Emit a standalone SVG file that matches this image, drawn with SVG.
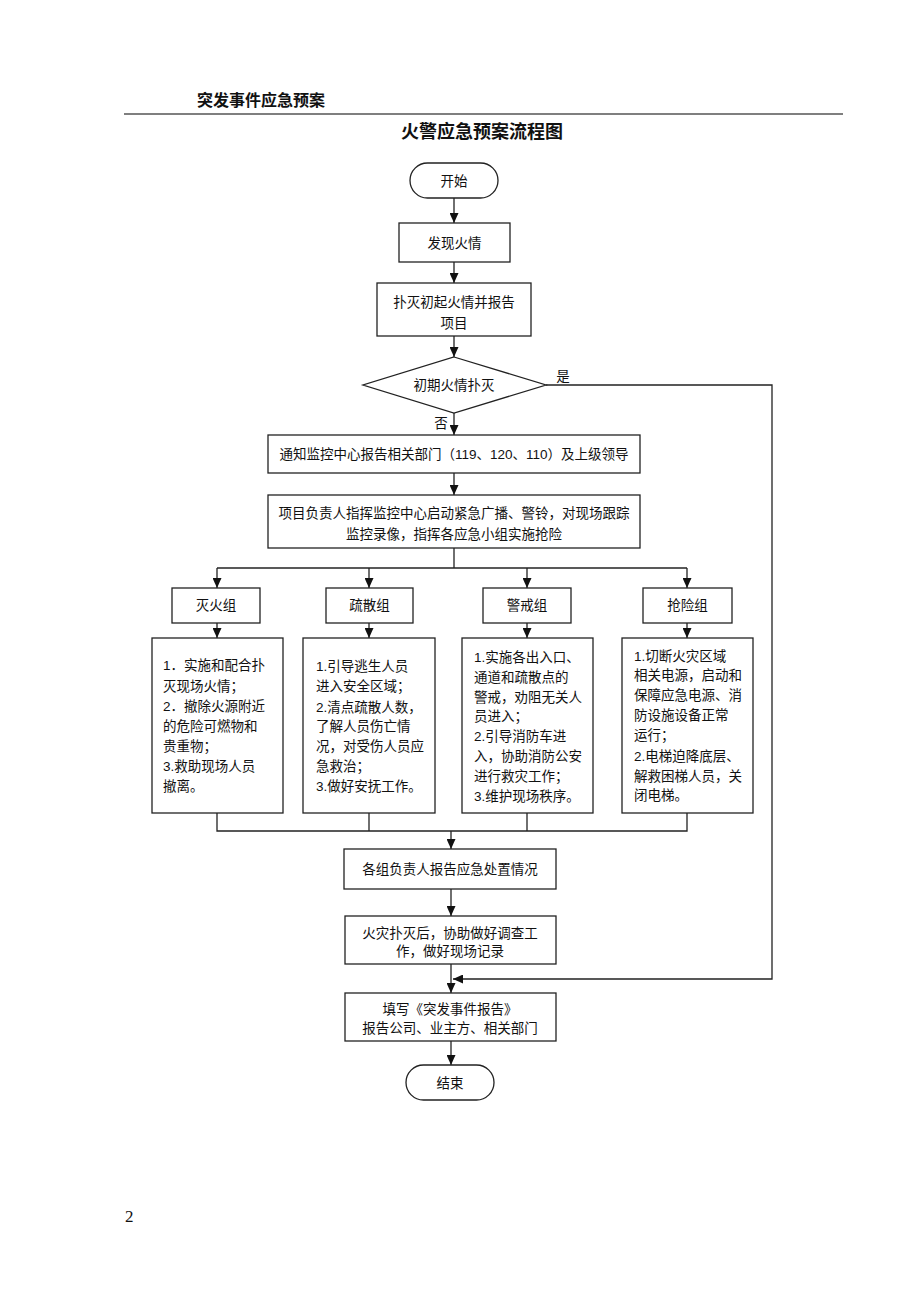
<svg xmlns="http://www.w3.org/2000/svg" width="920" height="1302" viewBox="0 0 920 1302">
<style>
  .t{font-family:"Liberation Sans","Noto Sans CJK SC",sans-serif;font-size:13.5px;fill:#111;}
  .c{text-anchor:middle;dominant-baseline:central;}
  .l{dominant-baseline:central;}
  .box{fill:#fff;stroke:#222;stroke-width:1.3;}
  .ln{fill:none;stroke:#222;stroke-width:1.3;}
  .hd{font-family:"Liberation Sans","Noto Sans CJK SC",sans-serif;font-weight:bold;fill:#111;}
</style>
<defs>
  <marker id="ah" markerUnits="userSpaceOnUse" markerWidth="10" markerHeight="9" refX="10" refY="4.5" orient="auto">
    <path d="M0,0 L10,4.5 L0,9 z" fill="#111"/>
  </marker>
</defs>
<rect width="920" height="1302" fill="#fff"/>

<g id="header">
  <text class="hd" x="197" y="106" font-size="16">突发事件应急预案</text>
  <line x1="124" y1="114" x2="843" y2="114" stroke="#555" stroke-width="1.6"/>
  <text class="hd" x="482" y="138" font-size="18" text-anchor="middle">火警应急预案流程图</text>
</g>

<g id="connectors">
  <line class="ln" x1="454" y1="198" x2="454" y2="223" marker-end="url(#ah)"/>
  <line class="ln" x1="454" y1="262" x2="454" y2="283" marker-end="url(#ah)"/>
  <line class="ln" x1="454" y1="336" x2="454" y2="357" marker-end="url(#ah)"/>
  <line class="ln" x1="454" y1="413" x2="454" y2="435" marker-end="url(#ah)"/>
  <line class="ln" x1="454" y1="473" x2="454" y2="495" marker-end="url(#ah)"/>
  <polyline class="ln" points="454,548 454,568"/>
  <polyline class="ln" points="217,568 687,568"/>
  <line class="ln" x1="217" y1="568" x2="217" y2="588" marker-end="url(#ah)"/>
  <line class="ln" x1="369" y1="568" x2="369" y2="588" marker-end="url(#ah)"/>
  <line class="ln" x1="527" y1="568" x2="527" y2="588" marker-end="url(#ah)"/>
  <line class="ln" x1="687" y1="568" x2="687" y2="588" marker-end="url(#ah)"/>
  <line class="ln" x1="217" y1="623" x2="217" y2="638" marker-end="url(#ah)"/>
  <line class="ln" x1="369" y1="623" x2="369" y2="638" marker-end="url(#ah)"/>
  <line class="ln" x1="527" y1="623" x2="527" y2="638" marker-end="url(#ah)"/>
  <line class="ln" x1="687" y1="623" x2="687" y2="638" marker-end="url(#ah)"/>
  <polyline class="ln" points="217,813 217,831 687,831 687,813"/>
  <line class="ln" x1="369" y1="813" x2="369" y2="831"/>
  <line class="ln" x1="527" y1="813" x2="527" y2="831"/>
  <line class="ln" x1="451" y1="831" x2="451" y2="849" marker-end="url(#ah)"/>
  <line class="ln" x1="451" y1="889" x2="451" y2="916" marker-end="url(#ah)"/>
  <line class="ln" x1="451" y1="964" x2="451" y2="993" marker-end="url(#ah)"/>
  <polyline class="ln" points="546,385 772,385 772,979 453,979" marker-end="url(#ah)"/>
  <line class="ln" x1="451" y1="1041" x2="451" y2="1065" marker-end="url(#ah)"/>
  <text class="t c" x="563" y="376">是</text>
  <text class="t c" x="441" y="423">否</text>
</g>

<g id="start">
  <rect class="box" x="410" y="163" width="88" height="35" rx="17.5"/>
  <text class="t c" x="454" y="181">开始</text>
</g>
<g id="discover">
  <rect class="box" x="399" y="223" width="111" height="39"/>
  <text class="t c" x="454.5" y="243">发现火情</text>
</g>
<g id="extinguish">
  <rect class="box" x="377" y="283" width="154" height="53"/>
  <text class="t c" x="454" y="302">扑灭初起火情并报告</text>
  <text class="t c" x="454" y="323">项目</text>
</g>
<g id="decision">
  <polygon class="box" points="454,357 546,385 454,413 363,385"/>
  <text class="t c" x="454" y="385">初期火情扑灭</text>
</g>
<g id="notify">
  <rect class="box" x="268" y="435" width="372" height="38"/>
  <text class="t c" x="454" y="454">通知监控中心报告相关部门（119、120、110）及上级领导</text>
</g>
<g id="command">
  <rect class="box" x="268" y="495" width="372" height="53"/>
  <text class="t c" x="454" y="513">项目负责人指挥监控中心启动紧急广播、警铃，对现场跟踪</text>
  <text class="t c" x="454" y="534">监控录像，指挥各应急小组实施抢险</text>
</g>

<g id="g1">
  <rect class="box" x="172" y="588" width="88" height="35"/>
  <text class="t c" x="216" y="605.5">灭火组</text>
</g>
<g id="g2">
  <rect class="box" x="326" y="588" width="87" height="35"/>
  <text class="t c" x="369.5" y="605.5">疏散组</text>
</g>
<g id="g3">
  <rect class="box" x="483" y="588" width="88" height="35"/>
  <text class="t c" x="527" y="605.5">警戒组</text>
</g>
<g id="g4">
  <rect class="box" x="643" y="588" width="89" height="35"/>
  <text class="t c" x="687.5" y="605.5">抢险组</text>
</g>

<g id="d1">
  <rect class="box" x="152" y="638" width="131" height="175"/>
  <text class="t l" x="163" y="665">1．实施和配合扑</text>
  <text class="t l" x="163" y="686">灭现场火情；</text>
  <text class="t l" x="163" y="706">2．撤除火源附近</text>
  <text class="t l" x="163" y="726">的危险可燃物和</text>
  <text class="t l" x="163" y="746">贵重物；</text>
  <text class="t l" x="163" y="766">3.救助现场人员</text>
  <text class="t l" x="163" y="786">撤离。</text>
</g>
<g id="d2">
  <rect class="box" x="303" y="638" width="132" height="175"/>
  <text class="t l" x="316" y="666">1.引导逃生人员</text>
  <text class="t l" x="316" y="686">进入安全区域；</text>
  <text class="t l" x="316" y="707">2.清点疏散人数，</text>
  <text class="t l" x="316" y="726">了解人员伤亡情</text>
  <text class="t l" x="316" y="746">况，对受伤人员应</text>
  <text class="t l" x="316" y="766">急救治；</text>
  <text class="t l" x="316" y="786">3.做好安抚工作。</text>
</g>
<g id="d3">
  <rect class="box" x="462" y="638" width="131" height="175"/>
  <text class="t l" x="474" y="657">1.实施各出入口、</text>
  <text class="t l" x="474" y="677">通道和疏散点的</text>
  <text class="t l" x="474" y="697">警戒，劝阻无关人</text>
  <text class="t l" x="474" y="716">员进入；</text>
  <text class="t l" x="474" y="736">2.引导消防车进</text>
  <text class="t l" x="474" y="756">入，协助消防公安</text>
  <text class="t l" x="474" y="776">进行救灾工作；</text>
  <text class="t l" x="474" y="796">3.维护现场秩序。</text>
</g>
<g id="d4">
  <rect class="box" x="622" y="638" width="131" height="175"/>
  <text class="t l" x="634" y="656">1.切断火灾区域</text>
  <text class="t l" x="634" y="675">相关电源，启动和</text>
  <text class="t l" x="634" y="695">保障应急电源、消</text>
  <text class="t l" x="634" y="715">防设施设备正常</text>
  <text class="t l" x="634" y="735">运行；</text>
  <text class="t l" x="634" y="756">2.电梯迫降底层、</text>
  <text class="t l" x="634" y="776">解救困梯人员，关</text>
  <text class="t l" x="634" y="795">闭电梯。</text>
</g>

<g id="report">
  <rect class="box" x="344" y="849" width="212" height="40"/>
  <text class="t c" x="450" y="869">各组负责人报告应急处置情况</text>
</g>
<g id="investigate">
  <rect class="box" x="345" y="916" width="211" height="48"/>
  <text class="t c" x="450" y="933">火灾扑灭后，协助做好调查工</text>
  <text class="t c" x="450" y="951">作，做好现场记录</text>
</g>
<g id="fillreport">
  <rect class="box" x="345" y="993" width="211" height="48"/>
  <text class="t c" x="450" y="1009">填写《突发事件报告》</text>
  <text class="t c" x="450" y="1028">报告公司、业主方、相关部门</text>
</g>
<g id="end">
  <rect class="box" x="406" y="1065" width="88" height="35" rx="17.5"/>
  <text class="t c" x="450" y="1083">结束</text>
</g>

<text x="125" y="1222" font-family="Liberation Serif,serif" font-size="17" fill="#111">2</text>
</svg>
